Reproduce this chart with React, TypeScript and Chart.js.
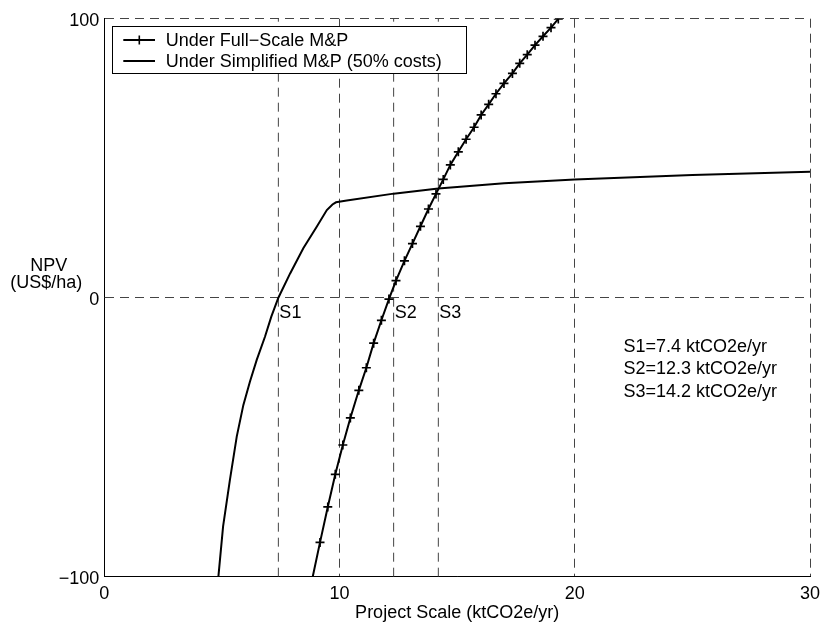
import React, { useEffect, useRef } from 'react';
import { Chart, registerables } from 'chart.js';

Chart.register(...registerables);

// ---- data ----
const X_MIN = 0;
const X_MAX = 30;
const Y_MIN = -100;
const Y_MAX = 100;
const X_TICK_STEP = 10;
const Y_TICK_STEP = 100;

const SERIES_LABELS = ['Under Full\u2212Scale M&P', 'Under Simplified M&P (50% costs)'];

const FULL_X = [8.86, 9.17, 9.50, 9.82, 10.14, 10.46, 10.82, 11.14, 11.45, 11.78, 12.10, 12.40, 12.76, 13.10, 13.44, 13.78, 14.10, 14.41, 14.71, 15.05, 15.38, 15.72, 16.02, 16.34, 16.65, 16.99, 17.35, 17.66, 17.98, 18.31, 18.65, 18.99, 19.30];
const FULL_Y = [-100, -87.7, -75.0, -63.3, -52.8, -43.1, -33.2, -25.1, -16.3, -8.1, -0.5, 6.1, 13.2, 19.4, 25.6, 31.8, 37.2, 42.4, 47.6, 52.3, 56.8, 61.1, 65.5, 69.3, 73.1, 76.8, 80.4, 84.0, 87.1, 90.5, 93.7, 96.8, 99.9];

const SIMP_X = [4.85, 5.05, 5.34, 5.63, 5.91, 6.19, 6.48, 6.83, 7.10, 7.40, 7.90, 8.46, 9.03, 9.46, 9.70, 9.85, 10.31, 12.3, 14.2, 17, 20, 25, 30];
const SIMP_Y = [-100, -82, -65.3, -49.8, -38.5, -30.1, -22.3, -14.0, -6.8, 0, 8.7, 17.7, 25.4, 31.4, 33.4, 34.2, 34.8, 37.3, 39.1, 41.0, 42.4, 44.0, 45.1];

const S_LABELS = ['S1', 'S2', 'S3'];
const S_VALUES = [7.4, 12.3, 14.2];
const NOTE_LINES = S_LABELS.map((s, i) => `${s}=${S_VALUES[i]} ktCO2e/yr`);
const NOTE_X = 22.07;
const NOTE_Y = -19.5;

const X_TITLE = 'Project Scale (ktCO2e/yr)';
const Y_TITLE_LINES = ['NPV', '(US$/ha)'];

const FONT_FAMILY = "'Liberation Sans', Arial, Helvetica, sans-serif";
const FONT_SIZE = 18;
const GRID_COLOR = '#444';
const DASH = [9, 6];

const overlayPlugin = {
  id: 'overlay',
  afterDatasetsDraw(chart: any) {
    const { ctx, chartArea, scales } = chart;
    const xs = scales.x;
    const ys = scales.y;
    ctx.save();
    ctx.font = `${FONT_SIZE}px ${FONT_FAMILY}`;
    ctx.fillStyle = '#000';

    // S labels
    ctx.textAlign = 'left';
    ctx.textBaseline = 'alphabetic';
    const y0 = ys.getPixelForValue(0);
    S_LABELS.forEach((s, i) => {
      ctx.fillText(s, xs.getPixelForValue(S_VALUES[i]) + 1, y0 + 20.5);
    });

    // notes
    const nx = xs.getPixelForValue(NOTE_X);
    const ny = ys.getPixelForValue(NOTE_Y);
    NOTE_LINES.forEach((t, i) => ctx.fillText(t, nx, ny + i * 22.2));

    // y title
    ctx.textAlign = 'center';
    ctx.fillText(Y_TITLE_LINES[0], chartArea.left - 55.5, y0 - 26.5);
    ctx.fillText(Y_TITLE_LINES[1], chartArea.left - 58, y0 - 9.5);

    // legend
    const left = chartArea.left + 8;
    const top = chartArea.top + 7.3;
    const w = 353.7;
    const h = 47.3;
    ctx.fillStyle = '#fff';
    ctx.fillRect(left, top, w, h);
    ctx.strokeStyle = '#000';
    ctx.lineWidth = 1;
    ctx.strokeRect(Math.round(left) + 0.5, Math.round(top) + 0.5, Math.round(w), Math.round(h));
    const rows = [top + 14, top + 35];
    ctx.lineWidth = 2;
    rows.forEach((ry, i) => {
      ctx.beginPath();
      ctx.moveTo(left + 11, ry);
      ctx.lineTo(left + 42.7, ry);
      ctx.stroke();
      if (i === 0) {
        ctx.lineWidth = 1.6;
        ctx.beginPath();
        ctx.moveTo(left + 27, ry - 4.5);
        ctx.lineTo(left + 27, ry + 4.5);
        ctx.stroke();
        ctx.lineWidth = 2;
      }
      ctx.fillStyle = '#000';
      ctx.textAlign = 'left';
      ctx.textBaseline = 'middle';
      ctx.fillText(SERIES_LABELS[i], left + 53.4, ry + 1);
    });
    ctx.restore();
  },
};

export default function App() {
  const canvasRef = useRef<HTMLCanvasElement | null>(null);

  useEffect(() => {
    if (!canvasRef.current) return;
    const font = { family: FONT_FAMILY, size: FONT_SIZE };
    const sLineSets = S_VALUES.map((s) => ({
      label: '',
      data: [
        { x: s, y: Y_MIN },
        { x: s, y: Y_MAX },
      ],
      showLine: true,
      borderColor: GRID_COLOR,
      borderWidth: 1,
      borderDash: DASH,
      pointRadius: 0,
      order: 5,
    }));
    const chart = new Chart(canvasRef.current, {
      type: 'scatter',
      data: {
        datasets: [
          {
            label: SERIES_LABELS[0],
            data: FULL_X.map((x, i) => ({ x, y: FULL_Y[i] })),
            showLine: true,
            borderColor: '#000',
            borderWidth: 2,
            pointStyle: 'cross',
            pointRadius: (c: any) => (c.dataIndex === 0 ? 0 : 4.5),
            pointBorderWidth: 1.7,
            pointBorderColor: '#000',
            pointBackgroundColor: '#000',
            order: 0,
          },
          {
            label: SERIES_LABELS[1],
            data: SIMP_X.map((x, i) => ({ x, y: SIMP_Y[i] })),
            showLine: true,
            borderColor: '#000',
            borderWidth: 2,
            pointRadius: 0,
            order: 1,
          },
          ...sLineSets,
        ] as any,
      },
      options: {
        responsive: false,
        maintainAspectRatio: false,
        animation: false,
        layout: { padding: { left: 0, right: 12, top: 18.7, bottom: 0 } },
        plugins: { legend: { display: false }, tooltip: { enabled: false } },
        scales: {
          x: {
            type: 'linear',
            min: X_MIN,
            max: X_MAX,
            ticks: { stepSize: X_TICK_STEP, color: '#000', font, padding: 7, maxRotation: 0 },
            grid: { color: GRID_COLOR, lineWidth: 1, drawTicks: false },
            border: { display: true, color: '#000', width: 1, dash: DASH },
            title: { display: true, text: X_TITLE, color: '#000', font, padding: { top: 0, bottom: 3 } },
            afterFit: (s: any) => {
              s.height = 50.3;
              s.paddingLeft = 0;
              s.paddingRight = 0;
            },
          },
          y: {
            type: 'linear',
            min: Y_MIN,
            max: Y_MAX,
            ticks: {
              stepSize: Y_TICK_STEP,
              color: '#000',
              font,
              padding: 5,
              labelOffset: 2,
              callback: (v: any) => String(v).replace('-', '\u2212'),
            },
            grid: { color: GRID_COLOR, lineWidth: 1, drawTicks: false },
            border: { display: true, color: '#000', width: 1, dash: DASH },
            afterFit: (s: any) => {
              s.width = 104.3;
              s.paddingTop = 0;
              s.paddingBottom = 0;
            },
          },
        },
      } as any,
      plugins: [overlayPlugin],
    });
    return () => chart.destroy();
  }, []);

  return (
    <div style={{ position: 'fixed', left: 0, top: 0, width: 822, height: 627, background: '#fff' }}>
      <canvas ref={canvasRef} width={822} height={627} style={{ display: 'block' }} />
    </div>
  );
}
